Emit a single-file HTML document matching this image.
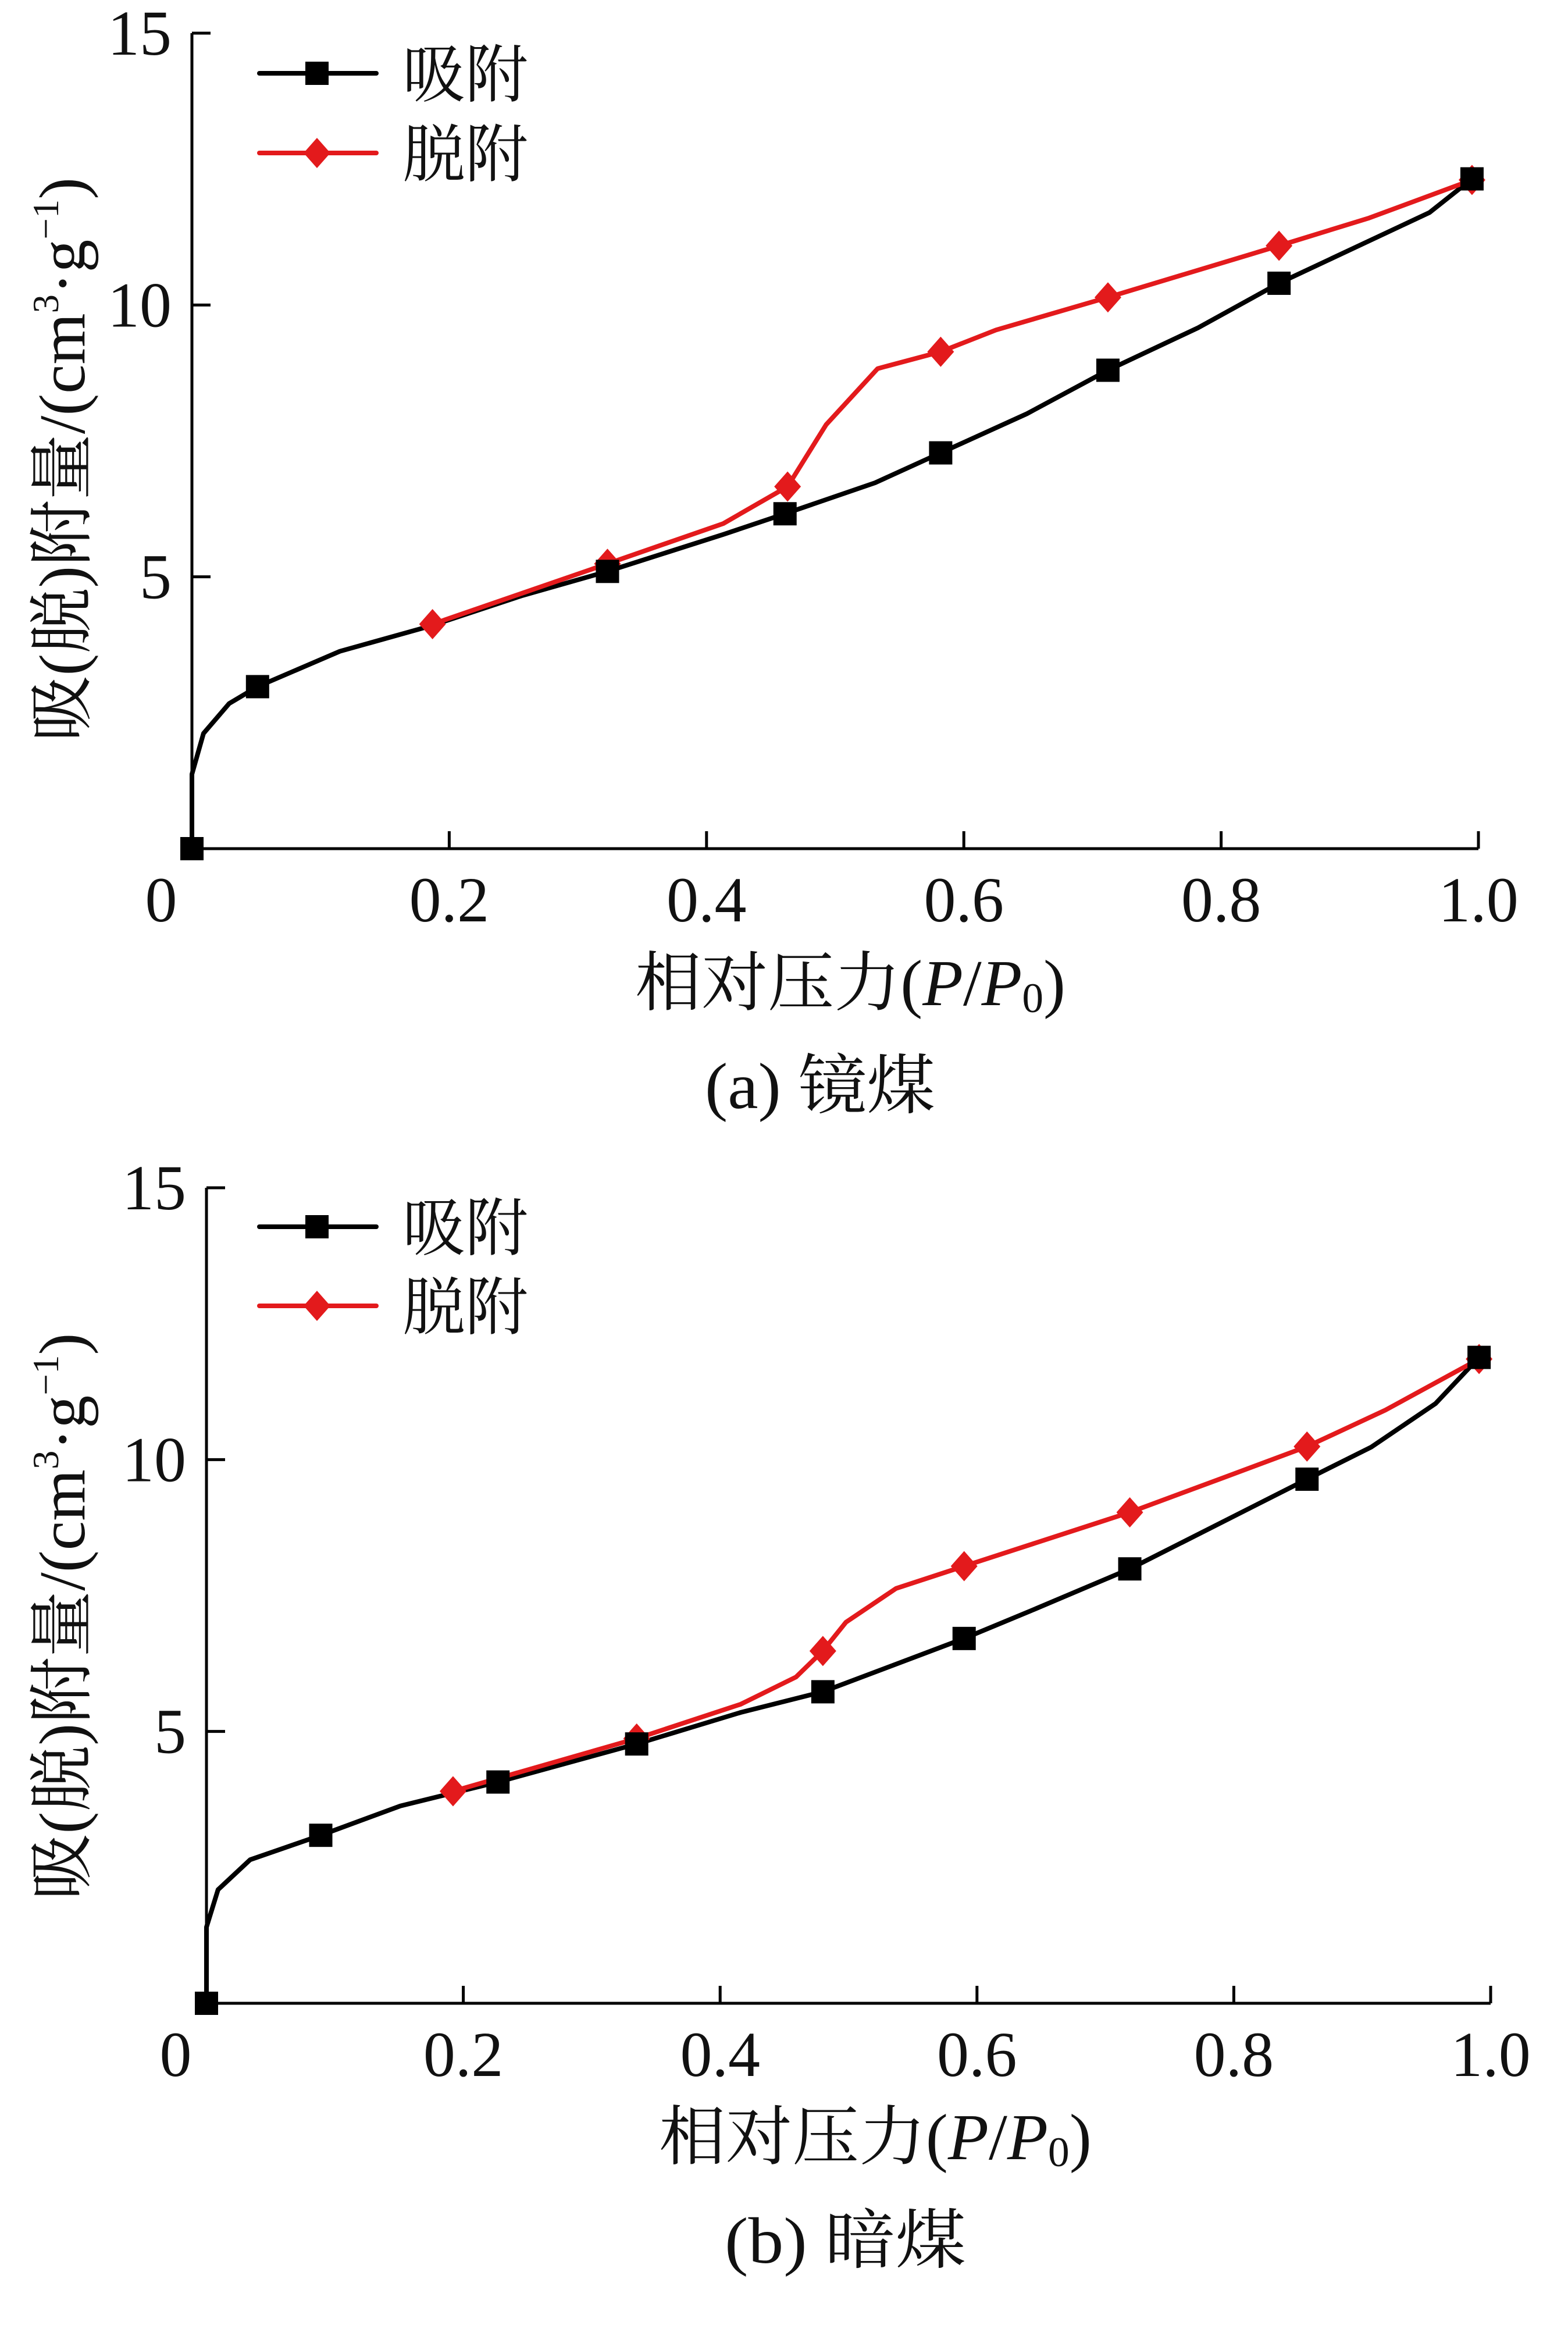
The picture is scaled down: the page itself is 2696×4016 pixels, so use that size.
<!DOCTYPE html>
<html><head><meta charset="utf-8">
<style>
html,body{margin:0;padding:0;background:#fff;}
svg{display:block;}
text{font-family:"Liberation Serif","Noto Serif CJK SC","Noto Sans CJK SC",serif;fill:#111;}
</style></head>
<body>
<svg id="fig" width="2696" height="4016" viewBox="0 0 2696 4016" xmlns="http://www.w3.org/2000/svg">
<rect x="0" y="0" width="2696" height="4016" fill="#fff"/>
</svg>
<script>
// ---- data (panel a: 镜煤) ----
const aAdsX = [0.0, 0.0, 0.009, 0.029, 0.051, 0.115, 0.186, 0.256, 0.323, 0.413, 0.461, 0.531, 0.582, 0.649, 0.712, 0.782, 0.845, 0.962, 0.995];
const aAdsY = [0.0, 1.37, 2.12, 2.67, 2.98, 3.63, 4.10, 4.65, 5.10, 5.78, 6.16, 6.73, 7.28, 8.00, 8.80, 9.58, 10.40, 11.70, 12.32];
const aAdsMarkX = [0.0, 0.051, 0.323, 0.461, 0.582, 0.712, 0.845, 0.995];
const aAdsMarkY = [0.0, 2.98, 5.10, 6.16, 7.28, 8.80, 10.40, 12.32];
const aDesX = [0.187, 0.323, 0.413, 0.463, 0.493, 0.533, 0.582, 0.625, 0.712, 0.845, 0.915, 0.995];
const aDesY = [4.13, 5.24, 5.98, 6.66, 7.80, 8.83, 9.14, 9.54, 10.14, 11.09, 11.60, 12.30];
const aDesMarkX = [0.187, 0.323, 0.463, 0.582, 0.712, 0.845, 0.995];
const aDesMarkY = [4.13, 5.24, 6.66, 9.14, 10.14, 11.09, 12.30];
// ---- data (panel b: 暗煤) ----
const bAdsX = [0.0, 0.0, 0.009, 0.034, 0.089, 0.151, 0.227, 0.335, 0.416, 0.480, 0.590, 0.642, 0.719, 0.857, 0.907, 0.957, 0.991];
const bAdsY = [0.0, 1.40, 2.09, 2.64, 3.09, 3.63, 4.07, 4.77, 5.35, 5.73, 6.71, 7.22, 7.99, 9.64, 10.23, 11.03, 11.88];
const bAdsMarkX = [0.0, 0.089, 0.227, 0.335, 0.480, 0.590, 0.719, 0.857, 0.991];
const bAdsMarkY = [0.0, 3.09, 4.07, 4.77, 5.73, 6.71, 7.99, 9.64, 11.88];
const bDesX = [0.192, 0.335, 0.416, 0.459, 0.480, 0.498, 0.537, 0.590, 0.719, 0.790, 0.857, 0.918, 0.991];
const bDesY = [3.90, 4.87, 5.50, 6.00, 6.48, 7.01, 7.63, 8.04, 9.03, 9.65, 10.24, 10.91, 11.85];
const bDesMarkX = [0.192, 0.335, 0.480, 0.590, 0.719, 0.857, 0.991];
const bDesMarkY = [3.90, 4.87, 6.48, 8.04, 9.03, 10.24, 11.85];
const xTicks = [0, 0.2, 0.4, 0.6, 0.8, 1.0];
const xTickLabels = ["0", "0.2", "0.4", "0.6", "0.8", "1.0"];
const yTicks = [5, 10, 15];
const yTickLabels = ["5", "10", "15"];
const legendLabels = ["吸附", "脱附"];

const NS = "http://www.w3.org/2000/svg";
const svg = document.getElementById("fig");
function mk(tag, attrs, parent) {
  const e = document.createElementNS(NS, tag);
  for (const k in attrs) e.setAttribute(k, attrs[k]);
  (parent || svg).appendChild(e);
  return e;
}

function panel(P) {
  const g = mk("g", {});
  
  
  const sx = v => P.x0 + v * (P.x1 - P.x0);
  const sy = v => P.y0 - v * (P.y0 - P.y15) / 15;
  // axes
  const ax = mk("path", {d: `M${P.x0} ${P.y15} V${P.y0} H${P.x1}`, fill: "none", stroke: "#000", "stroke-width": 5}, g);
  
  
  // x ticks
  xTicks.forEach((t, i) => {
    if (t > 0) {
      const tk = mk("line", {x1: sx(t), x2: sx(t), y1: P.y0, y2: P.y0 - 30, stroke: "#000", "stroke-width": 5}, g);
      
      
    }
    const tx = mk("text", {x: t === 0 ? sx(t) - 53 : sx(t), y: P.y0 + 125, "font-size": 110, "text-anchor": "middle"}, g);
    tx.textContent = xTickLabels[i];
    
    
  });
  yTicks.forEach((t, i) => {
    const tk = mk("line", {x1: P.x0, x2: P.x0 + 32, y1: sy(t), y2: sy(t), stroke: "#000", "stroke-width": 5}, g);
    
    
    const tx = mk("text", {x: P.x0 - 35, y: sy(t) + 37, "font-size": 110, "text-anchor": "end"}, g);
    tx.textContent = yTickLabels[i];
    
    
  });
  function line(xs, ys, color, name) {
    const d = xs.map((v, i) => (i ? "L" : "M") + sx(v).toFixed(1) + " " + sy(ys[i]).toFixed(1)).join(" ");
    const p = mk("path", {d: d, fill: "none", stroke: color, "stroke-width": 8, "stroke-linejoin": "round", "stroke-linecap": "round"}, g);
    
    
  }
  function square(cx, cy, name) {
    const r = mk("rect", {x: cx - 20, y: cy - 20, width: 40, height: 40, fill: "#000"}, g);
    
    
  }
  function diamond(cx, cy, name) {
    const r = mk("polygon", {points: `${cx},${cy - 26} ${cx + 23},${cy} ${cx},${cy + 26} ${cx - 23},${cy}`, fill: "#e31a1c"}, g);
    
    
  }
  line(P.adsX, P.adsY, "#000", "adsorption-line");
  line(P.desX, P.desY, "#e31a1c", "desorption-line");
  P.desMX.forEach((v, i) => diamond(sx(v), sy(P.desMY[i]), "desorption-point"));
  P.adsMX.forEach((v, i) => square(sx(v), sy(P.adsMY[i]), "adsorption-point"));
  // legend
  [[P.leg1, "#000", 0], [P.leg2, "#e31a1c", 1]].forEach(([ly, c, k]) => {
    const lg = mk("g", {}, g);
    
    
    const ln = mk("line", {x1: 446, x2: 647, y1: ly, y2: ly, stroke: c, "stroke-width": 8, "stroke-linecap": "round"}, lg);
    
    
    const px = 545;
    let m;
    if (k === 0) m = mk("rect", {x: px - 20, y: ly - 20, width: 40, height: 40, fill: "#000"}, lg);
    else m = mk("polygon", {points: `${px},${ly - 26} ${px + 23},${ly} ${px},${ly + 26} ${px - 23},${ly}`, fill: "#e31a1c"}, lg);
    
    
    const t = mk("text", {x: 692, y: ly + 40, "font-size": 108, textLength: 216, lengthAdjust: "spacingAndGlyphs"}, lg);
    t.textContent = legendLabels[k];
    
    
  });
  // y title
  const yt = mk("text", {x: 0, y: 0, "font-size": 112, "text-anchor": "middle", textLength: P.ytLen, lengthAdjust: "spacingAndGlyphs",
    transform: `translate(145 ${P.ytC}) rotate(-90)`}, g);
  yt.innerHTML = '吸(脱)附量/(cm<tspan font-size="64" dy="-45">3</tspan><tspan dy="45">·g</tspan><tspan font-size="64" dy="-45">−1</tspan><tspan dy="45">)</tspan>';
  
  
  // x title
  const xt = mk("text", {x: P.xtX, y: P.xtY, "font-size": 112, textLength: P.xtLen, lengthAdjust: "spacingAndGlyphs"}, g);
  xt.innerHTML = '相对压力(<tspan font-style="italic">P</tspan>/<tspan font-style="italic">P</tspan><tspan font-size="72" dy="12">0</tspan><tspan dy="-12">)</tspan>';
  
  
  // caption
  const cp = mk("text", {x: P.cpX, y: P.cpY, "font-size": 112, textLength: P.cpLen, lengthAdjust: "spacingAndGlyphs"}, g);
  cp.textContent = P.caption;
  
  
}

panel({id: "panel-a", x0: 330, x1: 2542, y0: 1459, y15: 57,
  adsX: aAdsX, adsY: aAdsY, adsMX: aAdsMarkX, adsMY: aAdsMarkY,
  desX: aDesX, desY: aDesY, desMX: aDesMarkX, desMY: aDesMarkY,
  leg1: 126, leg2: 263, ytC: 790, ytLen: 970,
  xtX: 1092, xtY: 1728, xtLen: 740, cpX: 1212, cpY: 1905, cpLen: 396, caption: "(a)  镜煤"});
panel({id: "panel-b", x0: 355, x1: 2563, y0: 3444, y15: 2042,
  adsX: bAdsX, adsY: bAdsY, adsMX: bAdsMarkX, adsMY: bAdsMarkY,
  desX: bDesX, desY: bDesY, desMX: bDesMarkX, desMY: bDesMarkY,
  leg1: 2109, leg2: 2245, ytC: 2779, ytLen: 975,
  xtX: 1133, xtY: 3712, xtLen: 744, cpX: 1246, cpY: 3890, cpLen: 415, caption: "(b)  暗煤"});
</script>
</body></html>
